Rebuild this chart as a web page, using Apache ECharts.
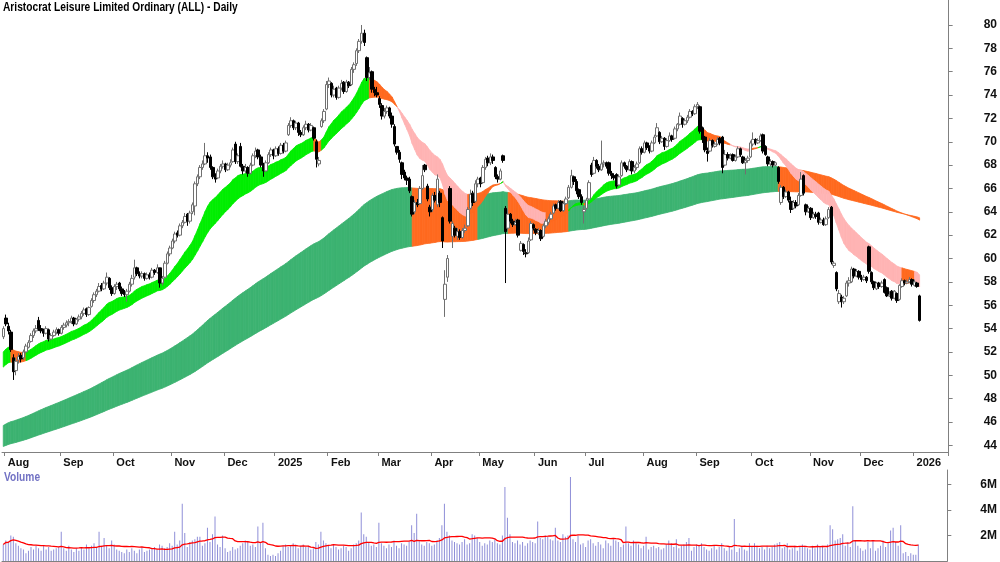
<!DOCTYPE html>
<html>
<head>
<meta charset="utf-8">
<script src="https://cdn.jsdelivr.net/npm/echarts@6/dist/echarts.min.js"></script>
<style>html,body{margin:0;padding:0;background:#fff}#chart{width:1000px;height:562px}</style>
</head>
<body>
<div id="chart"></div>
<script>
// ---------------- data ----------------
const titleText = 'Aristocrat Leisure Limited Ordinary (ALL) - Daily';
const monthLabels = ['Aug','Sep','Oct','Nov','Dec','2025','Feb','Mar','Apr','May','Jun','Jul','Aug','Sep','Oct','Nov','Dec','2026'];
const priceTicks = [44,46,48,50,52,54,56,58,60,62,64,66,68,70,72,74,76,78,80];
const volumeTicks = [2,4,6]; // millions
const firstDate = '2024-07-31';
const holidays = ['2024-12-25','2024-12-26','2025-01-01','2025-01-27','2025-04-18','2025-04-21','2025-04-25','2025-06-09','2025-12-25','2025-12-26','2026-01-01','2026-01-26'];
const slotCount = 375;

const open = [
53.3,54.9,54.2,53.7,51.5,50.4,51.3,51.7,51.5,52.0,52.4,52.9,53.4,53.8,54.7,54.0,53.8,53.6,53.9,53.1,
53.4,53.7,53.9,53.6,54.1,54.3,54.5,54.6,54.9,54.4,54.8,55.0,55.3,55.7,55.2,55.9,56.4,56.9,57.2,57.7,
57.4,57.9,58.3,57.5,57.0,57.6,57.9,57.4,57.0,56.9,57.2,57.8,58.4,59.2,58.7,58.5,58.7,58.3,58.6,58.4,
59.0,58.8,59.2,57.9,58.4,59.6,60.4,60.9,61.5,62.2,62.0,62.8,63.1,63.8,63.2,64.0,64.5,66.4,67.0,67.8,
68.1,68.8,68.7,67.8,67.0,66.9,67.5,67.9,68.1,67.6,68.0,68.3,69.8,68.3,69.6,67.9,67.5,67.8,67.3,68.0,
68.8,69.3,68.7,68.0,67.5,68.2,68.9,69.3,68.8,69.4,69.0,69.7,69.2,70.6,71.4,71.8,71.2,71.6,70.8,70.6,
71.2,71.5,71.0,71.2,70.0,68.1,71.3,71.8,72.8,74.9,75.0,74.0,74.6,73.8,74.6,75.1,74.3,75.1,74.9,76.2,
76.7,77.8,78.6,79.3,77.2,75.5,76.0,74.5,74.2,73.7,73.1,72.2,72.6,72.9,72.2,71.3,69.6,69.1,68.2,67.4,
66.9,66.8,65.3,64.0,64.8,64.7,66.0,68.0,66.2,64.4,64.2,65.4,64.6,65.6,63.5,56.5,58.4,66.0,61.9,62.6,
61.9,62.3,61.8,62.4,62.8,64.3,65.6,64.9,66.4,66.9,66.5,67.8,68.6,68.2,68.7,67.8,67.0,66.8,68.8,64.3,
62.6,63.8,63.2,62.9,63.3,60.7,61.2,60.5,60.5,61.6,62.9,62.5,62.2,62.4,61.9,62.8,63.1,63.4,63.9,64.6,
64.3,64.9,64.1,64.7,65.2,66.1,67.0,66.6,65.9,65.3,64.0,64.3,65.1,68.0,67.3,68.4,67.9,67.6,68.1,68.2,
68.2,67.3,67.1,67.2,66.3,67.1,68.2,67.9,67.6,68.3,67.5,67.8,68.2,69.4,69.1,69.9,69.5,69.2,69.9,70.5,
70.8,70.0,70.3,69.6,70.1,70.5,70.3,71.1,71.5,72.0,71.5,71.8,72.1,72.6,72.4,73.0,73.0,71.2,70.4,69.2,
69.2,70.1,69.6,69.8,70.3,70.4,68.0,68.9,68.6,68.9,68.4,68.7,69.4,68.7,68.2,68.4,68.7,69.8,70.2,69.9,
70.1,70.6,69.6,68.7,68.1,68.3,68.0,67.8,64.8,66.1,65.3,65.7,64.9,64.3,64.8,64.6,65.4,67.1,64.6,64.0,
64.3,63.5,63.8,63.9,63.1,63.3,62.9,63.5,64.4,59.4,58.8,56.3,56.7,56.3,56.8,57.9,58.0,59.1,58.5,58.9,
58.4,58.2,58.4,61.0,58.8,58.0,57.4,57.9,57.6,58.2,57.5,56.8,57.2,56.6,57.0,56.5,57.6,58.1,57.9,58.0,58.2,57.7,57.9,56.8
];
const high = [
54.2,55.2,54.5,53.9,51.8,51.5,51.9,51.9,52.2,52.7,53.0,53.6,54.0,54.3,55.0,54.3,54.0,54.2,54.0,53.6,
53.9,54.1,54.0,54.3,54.5,54.7,54.8,55.1,55.0,54.9,55.2,55.5,55.8,55.8,55.9,56.6,57.1,57.4,57.9,57.9,
58.1,58.8,58.4,57.7,57.8,58.0,58.0,57.6,57.3,57.4,58.0,58.6,59.9,59.3,58.9,58.9,58.8,58.8,58.8,59.2,
59.1,59.5,59.2,58.5,59.8,60.6,61.1,61.7,62.3,62.4,63.0,63.3,63.9,63.9,64.1,64.8,66.6,67.2,68.0,68.4,
69.9,69.1,68.9,67.9,67.3,67.7,68.1,68.4,68.2,68.2,68.5,69.5,70.0,69.0,69.9,68.1,68.1,67.9,68.2,69.0,
69.5,69.4,68.9,68.2,68.4,69.1,69.5,69.4,69.6,69.6,69.9,69.9,70.1,71.6,72.1,71.9,71.8,71.7,71.0,71.4,
71.8,71.6,71.6,71.3,70.2,68.7,72.0,72.8,75.2,75.5,75.1,74.8,74.7,74.8,75.3,75.2,75.3,75.2,76.4,76.8,
78.0,78.8,80.0,79.6,77.3,76.4,76.1,74.7,74.7,73.9,73.3,72.9,73.1,73.0,72.5,71.5,69.6,69.3,68.3,67.6,
67.1,67.0,65.4,65.0,65.1,66.2,68.0,68.1,66.4,64.6,65.6,65.7,67.2,65.8,63.6,59.0,60.3,66.2,63.2,62.8,
62.6,62.5,62.6,62.9,64.4,65.9,65.8,66.7,67.0,67.0,68.0,68.7,68.8,69.0,68.9,67.9,67.2,67.7,68.9,64.5,
64.2,63.9,63.4,63.4,63.4,61.5,61.3,60.8,61.8,63.2,63.0,62.6,62.6,62.5,63.0,63.4,63.6,64.0,64.7,64.7,
65.0,65.0,64.9,65.3,66.3,67.6,67.1,66.8,66.0,65.5,64.5,65.2,66.7,68.2,68.7,68.5,68.1,70.1,68.4,68.3,
68.3,67.5,67.3,67.3,67.2,68.4,68.3,68.0,68.5,68.4,68.0,68.3,69.6,69.6,70.1,70.0,69.7,70.1,70.6,71.6,
70.9,70.5,70.4,70.3,70.8,70.6,71.3,71.6,72.5,72.1,72.0,72.3,72.8,72.7,73.2,73.4,73.1,71.3,70.5,69.5,
70.3,70.2,70.0,70.4,70.4,70.5,69.3,69.1,69.0,69.0,68.9,69.6,69.5,68.8,68.6,68.8,70.1,70.8,70.3,70.3,
70.7,70.7,69.7,68.8,68.5,68.4,68.3,67.9,66.3,66.2,65.9,65.8,65.3,65.0,65.0,65.6,67.4,67.2,64.7,64.5,
64.4,64.0,64.0,64.0,63.5,63.5,63.6,64.4,64.5,59.8,58.9,57.3,56.9,56.8,58.1,58.4,59.3,59.2,59.1,59.0,
58.6,58.6,58.5,61.1,58.9,58.1,58.0,58.0,58.1,58.3,57.6,57.2,57.3,57.3,57.1,57.8,58.3,58.2,58.2,58.4,58.3,58.2,58.0,56.9
];
const low = [
53.1,54.2,53.5,52.0,49.6,50.0,51.0,51.1,51.3,51.9,52.3,52.8,53.2,53.6,53.8,53.6,53.3,53.5,52.9,53.0,
53.3,53.5,53.4,53.5,53.9,54.1,54.2,54.4,54.2,54.3,54.6,54.8,55.1,55.0,55.1,55.8,56.2,56.7,57.1,57.2,
57.3,57.7,57.3,56.8,56.9,57.3,57.2,56.8,56.7,56.3,57.1,57.6,58.2,58.5,58.3,58.3,58.1,58.2,58.2,58.3,
58.6,58.7,57.5,57.7,58.3,59.5,60.2,60.8,61.3,61.8,61.9,62.6,63.0,62.8,63.0,63.8,63.7,66.2,66.8,67.6,
68.0,68.2,67.6,66.8,66.5,66.8,67.3,67.7,67.4,67.5,67.8,68.2,68.1,68.1,67.8,67.2,67.3,67.0,67.2,67.9,
68.6,68.5,67.8,67.0,67.4,68.1,68.7,68.5,68.7,68.8,68.9,69.0,69.1,70.5,71.2,71.0,71.0,70.5,70.4,70.5,
71.0,70.8,70.9,70.1,67.8,67.9,71.2,71.6,72.7,74.6,73.8,73.8,73.6,73.7,74.4,74.1,74.2,74.6,74.8,75.9,
76.5,77.6,78.4,78.2,75.2,75.3,74.2,73.9,73.8,72.9,71.9,72.0,72.4,72.0,71.2,69.6,68.9,68.2,66.8,66.7,
66.3,65.6,63.6,63.8,64.4,64.6,65.9,67.4,64.9,63.6,64.0,64.8,64.4,64.4,60.9,55.0,58.0,63.0,60.9,61.8,
61.6,61.6,61.7,62.2,62.7,64.2,64.5,64.8,66.1,66.1,66.4,67.6,67.9,68.0,68.1,66.8,66.5,66.7,68.2,57.9,
62.4,63.0,62.7,62.8,61.8,60.6,60.3,60.1,60.4,61.5,62.4,62.0,62.0,61.5,61.8,62.6,62.9,63.3,63.8,64.1,
64.2,64.0,64.0,64.6,65.1,66.0,66.3,65.5,65.1,64.6,63.0,64.2,65.0,67.0,67.2,67.7,67.4,67.5,67.8,67.7,
67.1,66.8,66.7,66.0,66.2,67.0,67.7,67.4,67.5,67.2,67.3,67.6,68.1,68.9,69.0,69.3,69.0,69.1,69.8,70.4,
69.8,69.9,69.3,69.5,70.0,70.0,70.2,70.9,71.4,71.2,71.4,71.6,72.0,72.2,72.3,72.8,70.7,69.9,69.1,68.3,
69.1,69.5,69.5,69.7,69.7,67.3,67.9,68.4,68.5,68.3,68.3,68.6,68.7,68.1,67.2,68.2,68.6,69.6,69.7,69.8,
70.0,69.0,68.8,67.9,67.9,67.8,67.9,66.4,64.6,65.1,65.2,64.8,63.9,64.2,64.3,64.5,65.3,65.4,63.7,63.9,
63.3,63.4,63.4,62.9,63.0,62.8,62.8,63.4,59.5,59.2,57.2,56.1,55.8,56.1,56.7,57.6,57.9,58.3,58.4,58.2,
58.0,58.1,57.9,58.7,57.8,57.3,57.3,57.4,57.5,57.0,56.7,56.7,56.4,56.5,56.2,56.4,57.5,57.7,57.8,57.9,57.6,57.6,57.5,54.6
];
const close = [
54.0,54.4,53.8,52.2,50.3,51.2,51.6,51.4,52.0,52.5,52.8,53.4,53.8,54.0,54.0,53.8,53.6,54.0,53.1,53.4,
53.7,53.9,53.6,54.1,54.3,54.5,54.6,54.9,54.4,54.8,55.0,55.3,55.6,55.2,55.8,56.4,56.9,57.2,57.6,57.4,
57.9,58.4,57.5,57.0,57.6,57.8,57.4,57.0,56.9,57.2,57.8,58.3,59.2,58.7,58.5,58.7,58.3,58.6,58.4,59.0,
58.8,59.2,57.9,58.3,59.6,60.4,60.9,61.5,62.1,62.0,62.8,63.1,63.6,63.2,63.9,64.6,66.4,67.0,67.8,68.1,
68.8,68.6,67.8,67.0,66.8,67.5,67.9,68.1,67.6,68.0,68.2,69.3,68.3,68.8,67.9,67.5,67.8,67.3,68.0,68.8,
69.2,68.7,68.0,67.5,68.2,68.9,69.3,68.8,69.4,69.0,69.7,69.2,69.9,71.4,71.8,71.2,71.6,70.8,70.6,71.2,
71.5,71.0,71.4,70.3,68.5,68.4,71.8,72.6,74.9,75.2,74.0,74.5,73.8,74.6,75.0,74.3,75.1,74.8,76.2,76.6,
77.8,78.6,79.3,78.5,75.5,75.9,74.5,74.2,74.0,73.2,72.2,72.6,72.9,72.2,71.5,69.8,69.1,68.5,67.2,66.9,
66.7,65.8,63.8,64.8,64.6,66.0,67.1,67.6,65.1,64.0,65.4,65.0,66.8,64.8,61.5,57.8,60.0,63.2,63.0,62.0,
62.3,61.8,62.4,62.6,64.2,65.5,64.8,66.4,66.8,66.4,67.8,68.5,68.2,68.7,68.4,67.0,66.8,67.5,68.4,62.3,
63.8,63.2,62.9,63.1,62.0,61.3,60.6,60.4,61.5,63.0,62.6,62.2,62.4,61.7,62.8,63.2,63.4,63.8,64.5,64.3,
64.8,64.1,64.7,65.1,66.1,67.1,66.6,65.8,65.3,64.8,64.2,65.0,66.5,67.2,68.4,67.9,67.6,68.1,68.2,67.9,
67.3,67.1,66.9,66.2,67.0,68.2,67.9,67.6,68.3,67.5,67.8,68.1,69.4,69.1,69.9,69.5,69.2,69.9,70.4,71.2,
70.0,70.3,69.6,70.1,70.5,70.2,71.1,71.5,72.2,71.5,71.8,72.1,72.6,72.4,73.0,73.2,70.9,70.2,69.3,69.0,
70.1,69.7,69.8,70.2,69.9,67.8,68.9,68.6,68.8,68.4,68.7,69.4,68.9,68.2,68.4,68.6,69.9,70.2,69.9,70.1,
70.5,69.2,68.9,68.1,68.3,68.0,68.2,66.6,66.1,65.3,65.7,65.0,64.2,64.8,64.5,65.4,66.8,65.6,64.0,64.3,
63.5,63.8,63.6,63.1,63.3,62.9,63.4,64.2,59.7,59.6,57.4,57.0,56.3,56.6,57.9,58.1,59.1,58.5,58.9,58.4,
58.2,58.4,58.1,58.9,58.0,57.5,57.9,57.6,57.9,57.1,56.8,56.9,56.6,57.2,56.4,57.7,58.1,57.9,58.0,58.2,57.8,58.0,57.6,54.7
];
const volume = [ // millions of shares
1.3,1.6,1.5,2.0,1.9,1.4,1.2,1.0,0.9,0.6,0.8,1.1,0.9,1.2,1.0,0.8,1.2,0.9,1.1,0.8,
0.9,1.0,1.1,2.3,1.0,0.8,1.2,0.9,0.7,1.0,0.8,1.1,0.9,1.3,1.0,1.2,1.4,1.1,2.3,1.2,
1.8,1.2,1.0,1.6,1.3,0.9,0.8,0.7,0.6,0.9,0.7,1.0,0.8,0.6,0.9,1.1,0.7,0.8,0.9,1.0,
1.1,0.9,1.3,1.2,1.0,1.1,1.4,1.2,2.3,1.3,1.6,4.5,2.2,1.1,1.5,1.6,1.7,1.9,1.9,1.2,
1.4,2.6,1.5,2.1,3.5,1.3,1.1,2.0,1.0,0.7,0.8,1.1,0.9,1.0,1.2,1.4,1.6,1.5,1.2,1.3,
1.1,2.7,1.4,3.0,1.0,0.5,0.4,0.5,0.4,0.6,0.8,1.2,1.3,1.1,1.2,1.4,1.3,1.0,1.2,1.3,
1.1,1.2,0.9,1.0,1.5,1.3,2.3,1.6,1.4,1.2,1.0,1.3,1.1,0.9,1.0,1.2,1.1,0.8,1.0,1.3,
1.4,1.6,3.8,2.1,1.9,1.5,1.2,1.3,1.1,3.0,1.4,1.2,1.0,1.3,1.1,1.6,1.2,1.0,1.4,1.3,
1.2,1.5,2.8,2.2,3.7,1.6,1.3,1.2,1.5,1.4,1.2,1.3,1.6,1.8,2.8,4.5,2.3,2.0,1.6,1.5,
1.4,1.3,1.5,1.7,1.3,1.4,2.1,2.0,1.8,1.5,1.2,1.4,1.3,1.6,1.5,1.7,1.4,1.3,2.0,5.8,
3.4,2.1,1.5,1.4,1.6,1.3,1.5,1.2,1.4,1.6,1.5,1.4,3.1,1.8,1.7,2.0,1.9,1.7,1.6,2.6,
1.6,1.5,2.1,1.9,2.0,6.6,1.7,1.5,2.0,1.3,1.4,1.1,1.6,1.7,1.4,1.2,1.5,1.3,1.0,1.6,
1.4,1.2,1.7,1.6,1.5,1.1,1.3,2.7,1.4,1.2,1.6,1.4,1.3,1.0,1.2,1.9,0.9,1.1,1.2,1.0,
1.1,0.9,1.0,1.3,1.6,1.4,1.1,1.7,1.0,1.2,1.3,1.5,1.8,0.8,1.1,1.3,1.2,1.4,1.1,0.9,
0.8,1.0,1.2,0.9,1.1,1.4,1.0,0.8,1.1,0.9,3.3,0.7,1.0,1.2,0.9,0.8,1.4,1.1,1.4,1.2,
1.0,1.1,0.9,1.2,1.0,1.1,1.3,1.4,1.5,1.0,1.1,1.4,0.9,1.0,1.2,0.8,1.1,1.3,1.2,1.0,
0.9,1.2,1.0,1.3,1.1,1.2,1.0,1.3,2.8,2.5,1.6,1.7,1.8,2.1,1.2,1.5,1.1,4.3,1.6,1.2,
1.0,0.8,0.9,1.5,1.0,1.6,0.8,1.0,1.2,1.6,1.1,1.4,2.4,2.6,1.5,1.2,2.8,0.6,0.7,0.4,0.6,0.5,0.5,1.3
];
// trend ribbons: edge values read at the first bar, and EMA periods fitted to edges
const ribbonStart = { shortFast: 52.0, shortSlow: 50.7, longFast: 45.7, longSlow: 43.9 };
const ribbonPeriods = { shortFast: 19, shortSlow: 35, longFast: 141, longSlow: 236 };
const ribbonSlopeLag = { short: 3, long: 6 };
const volumeAvgPeriod = 21;

// ---------------- derived ----------------
const N = Math.min(open.length, high.length, low.length, close.length, volume.length);
const cats = [];
{
  const d = new Date(firstDate + 'T00:00:00Z');
  while (cats.length < slotCount) {
    const wd = d.getUTCDay();
    const s = d.toISOString().slice(0, 10);
    if (wd !== 0 && wd !== 6 && holidays.indexOf(s) < 0) cats.push(s);
    d.setUTCDate(d.getUTCDate() + 1);
  }
}
const labelAt = {};
{
  let k = 0;
  for (let i = 1; i < cats.length; i++) {
    if (cats[i].slice(5, 7) !== cats[i - 1].slice(5, 7) && k < monthLabels.length) labelAt[i] = monthLabels[k++];
  }
}
function ema(src, period, seed) {
  const k = 2 / (period + 1); const out = []; let e = seed;
  for (let i = 0; i < src.length; i++) { if (i > 0) e = e + k * (src[i] - e); out.push(e); }
  return out;
}
const C = close.slice(0, N);
const sF = ema(C, ribbonPeriods.shortFast, ribbonStart.shortFast);
const sS = ema(C, ribbonPeriods.shortSlow, ribbonStart.shortSlow);
const lF = ema(C, ribbonPeriods.longFast, ribbonStart.longFast);
const lS = ema(C, ribbonPeriods.longSlow, ribbonStart.longSlow);
function ribbonData(f, s, lag) {
  const out = [];
  for (let i = 0; i < f.length - 1; i++) {
    const j = i + 1;
    const up = f[j] >= f[Math.max(0, j - lag)], above = f[j] >= s[j];
    const st = (above && up) ? 0 : (!above && !up) ? 2 : 1;
    out.push([i, j, f[i], s[i], f[j], s[j], st]);
  }
  return out;
}
const shortColors = ['#00ee00', '#ff6a1f', '#ffb4b4'];
const longColors = ['#3cb371', '#ff6a1f', '#ff6a1f'];
function makeRender(colors) {
  return function (params, api) {
    const a = api.coord([api.value(0), api.value(2)]);
    const b = api.coord([api.value(1), api.value(4)]);
    const c = api.coord([api.value(1), api.value(5)]);
    const d = api.coord([api.value(0), api.value(3)]);
    const col = colors[api.value(6)];
    return { type: 'polygon', shape: { points: [a, b, c, d] }, style: { fill: col, stroke: col, lineWidth: 0.8 } };
  };
}
const candles = [];
for (let i = 0; i < N; i++) candles.push([open[i], close[i], low[i], high[i]]);
const volMA = [];
for (let i = 0; i < N; i++) {
  const s = Math.max(0, i - volumeAvgPeriod + 1); let t = 0;
  for (let j = s; j <= i; j++) t += volume[j];
  volMA.push(+(t / (i - s + 1)).toFixed(3));
}

const FONT = "'Liberation Sans',Arial,sans-serif";
const isLabel = (i) => labelAt[i] !== undefined;

const chart = echarts.init(document.getElementById('chart'), null, { renderer: 'canvas' });
chart.setOption({
  animation: false,
  backgroundColor: '#fff',
  grid: [
    { left: 2, width: 949, top: 0, height: 452 },
    { left: 2, width: 949, top: 470, height: 91 }
  ],
  xAxis: [
    {
      type: 'category', gridIndex: 0, data: cats, boundaryGap: true,
      axisLine: { show: true, lineStyle: { color: '#808080', width: 1 } },
      axisTick: { show: true, interval: (i) => isLabel(i), length: 4, lineStyle: { color: '#808080' } },
      axisLabel: { show: true, interval: (i) => isLabel(i), formatter: (v, i) => labelAt[i] || '', align: 'left', padding: [0, 0, 0, 2],
        margin: 5, color: '#111', fontSize: 11, fontWeight: 'bold', fontFamily: FONT },
      splitLine: { show: false }
    },
    {
      type: 'category', gridIndex: 1, data: cats, boundaryGap: true, position: 'top',
      axisLine: { show: true, lineStyle: { color: '#808080', width: 1 } },
      axisTick: { show: false }, axisLabel: { show: false }, splitLine: { show: false }
    }
  ],
  yAxis: [
    {
      type: 'value', gridIndex: 0, position: 'right', min: 43.43, max: 82.14, scale: true,
      axisLine: { show: true, lineStyle: { color: '#808080' } },
      axisTick: { show: true, inside: false, length: 4, customValues: priceTicks, lineStyle: { color: '#808080' } },
      axisLabel: { show: true, customValues: priceTicks, margin: 35, color: '#111', fontSize: 12, fontWeight: 'bold', fontFamily: FONT,
        formatter: (v) => (Math.abs(v - Math.round(v)) < 1e-6 && Math.round(v) % 2 === 0) ? String(Math.round(v)) : '' },
      splitLine: { show: false }
    },
    {
      type: 'value', gridIndex: 1, position: 'right', min: 0, max: 7.14,
      axisLine: { show: true, lineStyle: { color: '#808080' } },
      axisTick: { show: true, inside: false, length: 4, customValues: volumeTicks, lineStyle: { color: '#808080' } },
      axisLabel: { show: true, customValues: volumeTicks, margin: 33, color: '#111', fontSize: 12, fontWeight: 'bold', fontFamily: FONT,
        formatter: (v) => (v > 0 && Math.abs(v - Math.round(v)) < 1e-6 && Math.round(v) % 2 === 0) ? Math.round(v) + 'M' : '' },
      splitLine: { show: false }
    }
  ],
  series: [
    { type: 'custom', name: 'long ribbon', xAxisIndex: 0, yAxisIndex: 0, renderItem: makeRender(longColors),
      data: ribbonData(lF, lS, ribbonSlopeLag.long), encode: { x: [0, 1], y: [2, 3, 4, 5] }, z: 1, silent: true, clip: true },
    { type: 'custom', name: 'short ribbon', xAxisIndex: 0, yAxisIndex: 0, renderItem: makeRender(shortColors),
      data: ribbonData(sF, sS, ribbonSlopeLag.short), encode: { x: [0, 1], y: [2, 3, 4, 5] }, z: 2, silent: true, clip: true },
    { type: 'candlestick', name: 'price', xAxisIndex: 0, yAxisIndex: 0, data: candles, barWidth: 3, z: 3,
      itemStyle: { color: '#ffffff', color0: '#000000', borderColor: '#707070', borderColor0: '#000000', borderWidth: 1 } },
    { type: 'bar', name: 'Volume', xAxisIndex: 1, yAxisIndex: 1, data: volume.slice(0, N), barWidth: 1,
      itemStyle: { color: '#8f8fd8' }, z: 2 },
    { type: 'line', name: 'Volume MA', xAxisIndex: 1, yAxisIndex: 1, data: volMA, showSymbol: false, symbol: 'none',
      lineStyle: { color: '#ff0000', width: 1.3 }, z: 3 }
  ],
  graphic: [
    { type: 'text', left: 3, top: 2, scaleX: 0.85, style: { text: titleText, fill: '#000', fontSize: 12, fontWeight: 'bold', fontFamily: FONT } },
    { type: 'text', left: 4, top: 472, scaleX: 0.85, style: { text: 'Volume', fill: '#7272c4', fontSize: 12, fontWeight: 'bold', fontFamily: FONT } }
  ]
});
</script>
</body>
</html>
